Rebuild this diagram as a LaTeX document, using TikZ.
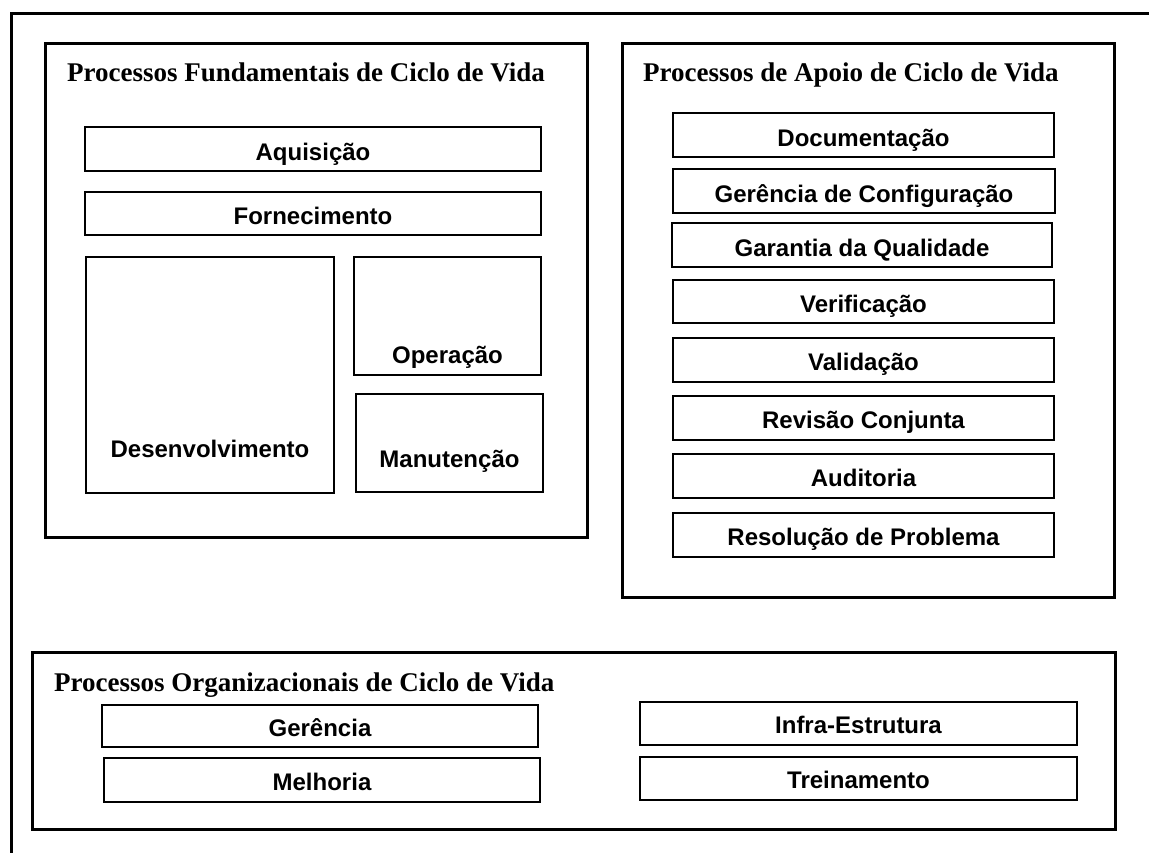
\documentclass[tikz,border=0pt]{standalone}
\usepackage{fontspec}
\setmainfont{Liberation Serif}
\newfontfamily\lblfont{Liberation Sans}
\begin{document}
\tikzset{
  frameline/.style={line width=3pt},
  bigbox/.style={draw, rectangle, line width=3pt, inner sep=0pt},
  inbox/.style={draw, rectangle, line width=1.8pt, inner sep=0pt},
  lbl/.style={font=\lblfont\bfseries\fontsize{24}{28}\selectfont, inner sep=0pt, anchor=base},
  ttl/.style={font=\bfseries\fontsize{27}{32}\selectfont, inner sep=0pt, anchor=base west},
}
\newcommand\mkbox[6]{%
  \node[#2, minimum width={#5-#3}, minimum height={#6-#4}] (#1) at ({(#3+#5)/2},{(#4+#6)/2}) {};}
\newcommand\mklbl[4]{%
  \node[lbl] (#1-t) at (#1.center |- 0,#3) {#4};}
\begin{tikzpicture}[x=1pt,y=-1pt]
\clip (0,0) rectangle (1149,852);
\fill[white] (0,0) rectangle (1149,852);
% outer frame (top and left visible)
\coordinate (fbl) at (11,880);
\coordinate (ftl) at (11,13);
\coordinate (ftr) at (1180,13);
\draw[frameline] (fbl) -- (ftl) -- (ftr);

% big groups
\mkbox{fund}{bigbox}{45}{43}{587}{537}
\mkbox{apoio}{bigbox}{622}{43}{1114}{597}
\mkbox{org}{bigbox}{32}{652}{1115}{829}

\node[ttl] (fund-title) at (67,81) {Processos Fundamentais de Ciclo de Vida};
\node[ttl] (apoio-title) at (643,81) {Processos de Apoio de Ciclo de Vida};
\node[ttl] (org-title) at (54,691) {Processos Organizacionais de Ciclo de Vida};

% fundamentais
\mkbox{acq}{inbox}{85}{127}{541}{171}   \mklbl{acq}{}{160}{Aquisição}
\mkbox{forn}{inbox}{85}{192}{541}{235}  \mklbl{forn}{}{224}{Fornecimento}
\mkbox{dev}{inbox}{86}{257}{334}{493}   \mklbl{dev}{}{457}{Desenvolvimento}
\mkbox{op}{inbox}{354}{257}{541}{375}   \mklbl{op}{}{363}{Operação}
\mkbox{man}{inbox}{356}{394}{543}{492}  \mklbl{man}{}{467}{Manutenção}

% apoio
\mkbox{doc}{inbox}{673}{113}{1054}{157} \mklbl{doc}{}{146}{Documentação}
\mkbox{gc}{inbox}{673}{169}{1055}{213}  \mklbl{gc}{}{202}{Gerência de Configuração}
\mkbox{gq}{inbox}{672}{223}{1052}{267}  \mklbl{gq}{}{256}{Garantia da Qualidade}
\mkbox{ver}{inbox}{673}{280}{1054}{323} \mklbl{ver}{}{312}{Verificação}
\mkbox{val}{inbox}{673}{338}{1054}{382} \mklbl{val}{}{370}{Validação}
\mkbox{rev}{inbox}{673}{396}{1054}{440} \mklbl{rev}{}{428}{Revisão Conjunta}
\mkbox{aud}{inbox}{673}{454}{1054}{498} \mklbl{aud}{}{486}{Auditoria}
\mkbox{res}{inbox}{673}{513}{1054}{557} \mklbl{res}{}{545}{Resolução de Problema}

% organizacionais
\mkbox{ger}{inbox}{102}{705}{538}{747}  \mklbl{ger}{}{736}{Gerência}
\mkbox{mel}{inbox}{104}{758}{540}{802}  \mklbl{mel}{}{790}{Melhoria}
\mkbox{inf}{inbox}{640}{702}{1077}{745} \mklbl{inf}{}{733}{Infra-Estrutura}
\mkbox{tre}{inbox}{640}{757}{1077}{800} \mklbl{tre}{}{788}{Treinamento}
\end{tikzpicture}
\end{document}
